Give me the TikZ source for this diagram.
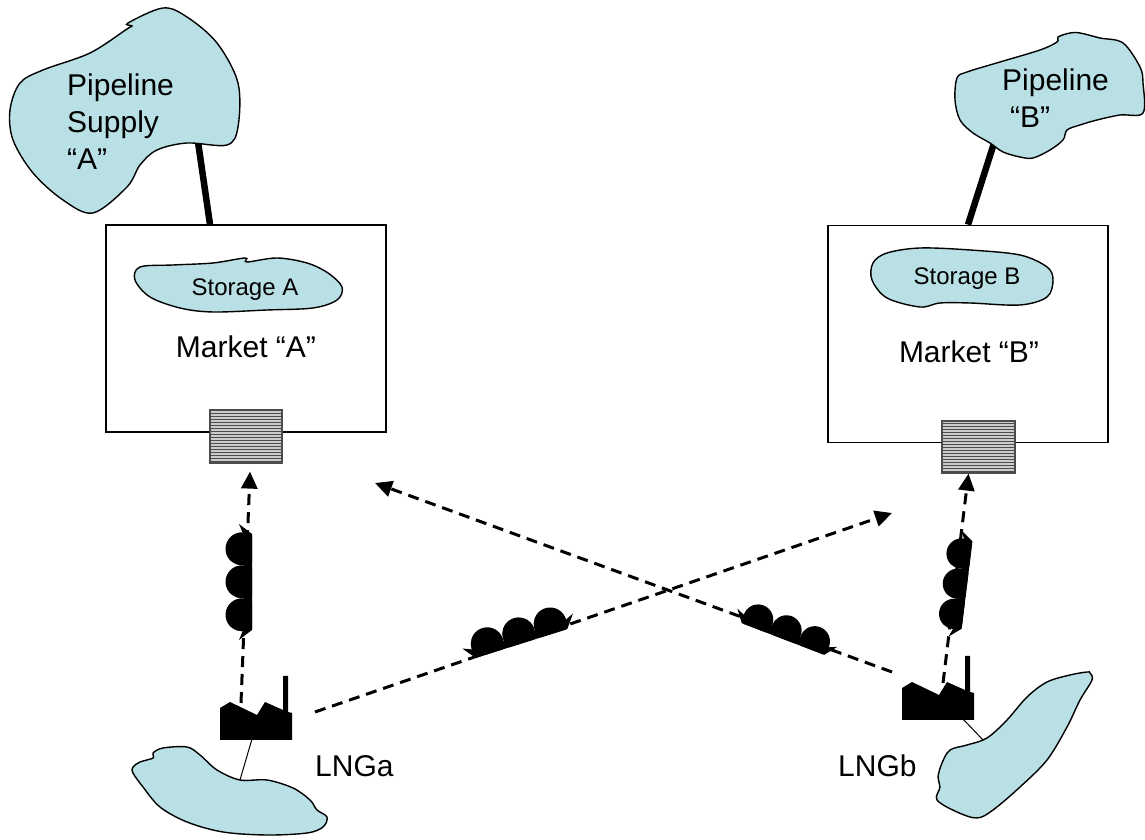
\documentclass[tikz,border=0pt]{standalone}
\usepackage{fontspec}
\setmainfont{Liberation Sans}
\usetikzlibrary{arrows.meta}
\definecolor{sea}{RGB}{185,224,229}
\tikzset{
  land/.style={draw=black,line width=1.4pt,fill=sea},
  market/.style={draw=black,line width=1.1pt,minimum width=280pt,inner sep=0pt},
  gate/.style={draw=black!70,line width=1.2pt,fill=gray!40,inner sep=0pt,
    path picture={\foreach \k in {0,...,17}
      \draw[black!70,line width=1.4pt]
        ([yshift=\k*3pt+1.5pt]path picture bounding box.south west) --
        ([yshift=\k*3pt+1.5pt]path picture bounding box.south east);}},
  flow/.style={line width=3pt,dash pattern=on 11pt off 7pt,-{Triangle[length=17pt,width=16pt]}},
  pipe/.style={line width=6.5pt},
  bigtext/.style={font=\fontsize{30}{37}\selectfont,inner sep=0pt},
  smalltext/.style={font=\fontsize{24}{29}\selectfont,inner sep=0pt},
  ship/.pic={
    \fill (-48,0) -- (48,0) -- (58,13) -- (46,8) -- (-46,8) -- (-58,13) -- cycle;
    \foreach \d in {-33,0,33}
      \fill (\d+13.3,0) arc[start angle=-37.3,end angle=217.3,radius=16.5];
  },
  plant/.pic={
    \fill (0,0) -- (0,32) -- (10,38) -- (37,25) -- (45,38) -- (63,30) -- (63,64)
      -- (68,64) -- (68,28) -- (72,27) -- (72,0) -- cycle;
  }
}
\begin{document}
\begin{tikzpicture}[x=1pt,y=1pt]
\useasboundingbox (0,0) rectangle (1145,840);

\coordinate (feedA) at (197,705);
\coordinate (feedB) at (995,700);
\coordinate (upA) at (241,137);
\coordinate (upB) at (943,157);
\coordinate (outA) at (315,128);
\coordinate (toB) at (892,327);
\coordinate (outB) at (892,168);
\coordinate (toA) at (375,357);
\coordinate (footA) at (252,101);
\coordinate (shoreA) at (240,60);
\coordinate (footB) at (962,122);
\coordinate (shoreB) at (983,100);

\node[market,minimum height=207pt] (marketA) at (246,511.5) {};
\node[market,minimum height=217pt] (marketB) at (968,506.3) {};
\node[gate,minimum width=72pt,minimum height=53pt] (gateA) at (246,403.5) {};
\node[gate,minimum width=73pt,minimum height=52pt] (gateB) at (978.5,393) {};

\draw[pipe] (feedA) -- ([xshift=-36pt]marketA.north);
\draw[pipe] (feedB) -- (marketB.north);

\draw[land] plot[smooth cycle,tension=0.55] coordinates {(163,832) (128,817) (132,814) (127,811)
  (90,787) (43,770) (20,757) (10,730) (13,700) (33,667) (63,640) (93,627) (127,653) (140,675)
  (157,690) (187,697) (227,695) (238,713) (238,757) (217,797) (187,823)};
\draw[land] plot[smooth cycle,tension=0.55] coordinates {(957,762) (967,768) (1000,778) (1040,790)
  (1057,798) (1058,803) (1070,807) (1080,807) (1100,802) (1123,797) (1140,773) (1143,757)
  (1143,727) (1120,725) (1097,720) (1080,715) (1067,710) (1063,700) (1050,690) (1033,682)
  (1020,683) (1003,688) (990,697) (973,707) (960,720) (955,740)};
\draw[land] plot[smooth cycle,tension=0.55] coordinates {(140,573) (173,575) (213,577) (245,582)
  (247,578) (277,582) (307,577) (328,567) (342,553) (337,540) (313,532) (267,530) (213,528)
  (180,532) (150,543) (135,560)};
\draw[land] plot[smooth cycle,tension=0.55] coordinates {(873,577) (887,587) (920,592) (970,590)
  (1020,585) (1047,573) (1053,560) (1047,543) (1020,535) (970,537) (940,537) (920,533)
  (887,542) (872,560)};
\draw[land] plot[smooth cycle,tension=0.55] coordinates {(133,73) (140,78) (153,82) (153,87)
  (163,92) (187,93) (200,85) (217,70) (240,60) (267,60) (293,52) (310,40) (317,30) (327,23)
  (323,13) (307,7) (267,5) (223,8) (187,18) (160,33) (143,53) (133,67)};
\draw[land] plot[smooth cycle,tension=0.55] coordinates {(1090,167) (1092,160) (1080,140)
  (1067,113) (1047,80) (1020,53) (993,30) (977,22) (957,28) (937,40) (940,53) (938,63)
  (942,77) (950,90) (967,95) (987,102) (1007,120) (1027,143) (1047,158) (1070,165) (1087,168)};

\node[bigtext,anchor=base west,align=left] (supplyA) at (67,670) {Pipeline\\Supply\\“A”};
\node[bigtext,anchor=base west,align=left] (supplyB) at (1002,712) {Pipeline\\\hspace*{8pt}“B”};
\node[smalltext,anchor=base] (storeA) at (245,544) {Storage A};
\node[smalltext,anchor=base] (storeB) at (967,555) {Storage B};
\node[bigtext,anchor=base] (nameA) at (246,482) {Market “A”};
\node[bigtext,anchor=base] (nameB) at (969,477) {Market “B”};
\node[bigtext,anchor=base west] (lngA) at (315,63) {LNGa};
\node[bigtext,anchor=base west] (lngB) at (838,63) {LNGb};

\draw[line width=1pt] (footA) -- (shoreA);
\draw[line width=1pt] (footB) -- (shoreB);

\draw[flow] (upA) -- ([shift={(4pt,-8pt)}]gateA.south);
\draw[flow] (upB) -- ([xshift=-10pt]gateB.south);
\draw[flow] (outA) -- (toB);
\draw[flow] (outB) -- (toA);

\pic[rotate=90] at (252,258) {ship};
\pic[rotate=17.5] at (521.5,196.5) {ship};
\pic[rotate=-21,scale=0.92] at (783,201) {ship};
\pic[rotate=83,scale=0.92] at (967,255) {ship};

\pic (plantA) at (220,100) {plant};
\pic (plantB) at (902,120) {plant};
\end{tikzpicture}
\end{document}
